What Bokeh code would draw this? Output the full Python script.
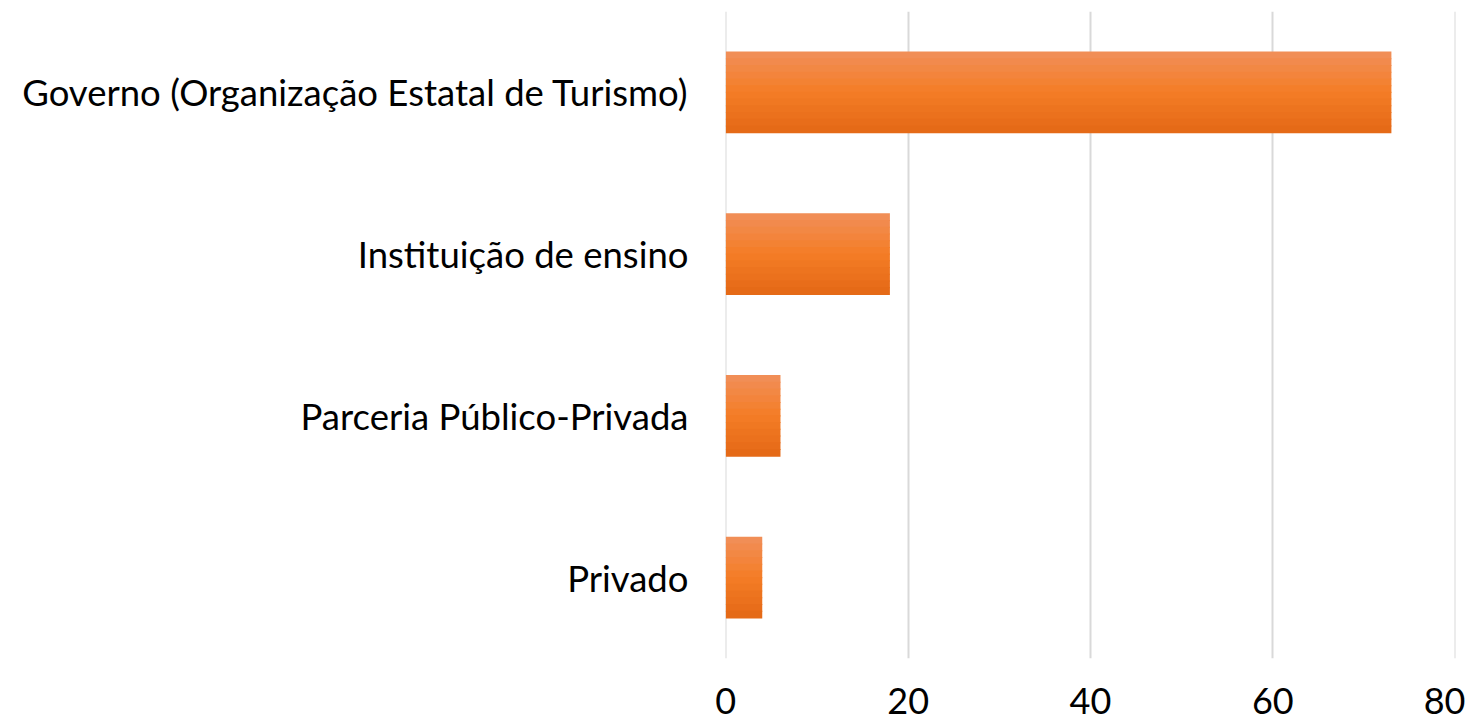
from bokeh.plotting import figure
from bokeh.models import ColumnDataSource, FactorRange, Range1d, FixedTicker
from bokeh.transform import dodge
from bokeh.embed import file_html
from bokeh.resources import INLINE

categories = ["Governo (Organização Estatal de Turismo)", "Instituição de ensino",
              "Parceria Público-Privada", "Privado"]
values = [73, 18, 6, 4]
x_ticks = [0, 20, 40, 60, 80]

FONT = "Lato"

source = ColumnDataSource(data=dict(cat=categories, val=values))

p = figure(width=1465, height=720, output_backend="svg", toolbar_location=None,
           y_range=FactorRange(factors=list(reversed(categories)), range_padding=0),
           x_range=Range1d(-0.03, 80.03),
           min_border_left=725, min_border_right=10, min_border_top=11, min_border_bottom=62)

p.outline_line_color = None
p.background_fill_color = "white"
p.border_fill_color = "white"

# gradient-like bars: stacked strips
top = (241, 143, 90)
mid = (244, 125, 38)
bot = (228, 104, 22)
N = 12
bar_h = 0.5
strip = bar_h / N
def lerp(a, b, t):
    return tuple(int(round(a[k] + (b[k] - a[k]) * t)) for k in range(3))
for i in range(N):
    t = (i + 0.5) / N
    if t < 0.5:
        c = lerp(top, mid, t / 0.5)
    else:
        c = lerp(mid, bot, (t - 0.5) / 0.5)
    col = "#%02x%02x%02x" % c
    off = bar_h / 2 - (i + 0.5) * strip
    p.hbar(y=dodge("cat", off, range=p.y_range), right="val", left=0, height=strip * 1.15,
           source=source, fill_color=col, line_color=None)

p.xaxis.ticker = FixedTicker(ticks=x_ticks)
p.xaxis.axis_line_color = None
p.xaxis.major_tick_line_color = None
p.xaxis.minor_tick_line_color = None
p.xaxis.major_tick_out = 0
p.xaxis.major_tick_in = 0
p.xaxis.major_label_standoff = 29
p.xaxis.major_label_text_font = FONT
p.xaxis.major_label_text_font_size = "36px"
p.xaxis.major_label_text_color = "black"

p.yaxis.axis_line_color = None
p.yaxis.major_tick_line_color = None
p.yaxis.minor_tick_line_color = None
p.yaxis.major_tick_out = 0
p.yaxis.major_tick_in = 0
p.yaxis.major_label_standoff = 37
p.yaxis.major_label_text_font = FONT
p.yaxis.major_label_text_font_size = "36.5px"
p.yaxis.major_label_text_color = "black"

p.ygrid.grid_line_color = None
p.xgrid.grid_line_color = "#d9d9d9"
p.xgrid.grid_line_width = 2
p.xgrid.ticker = FixedTicker(ticks=x_ticks)

open("out.html", "w").write(file_html(p, INLINE))
